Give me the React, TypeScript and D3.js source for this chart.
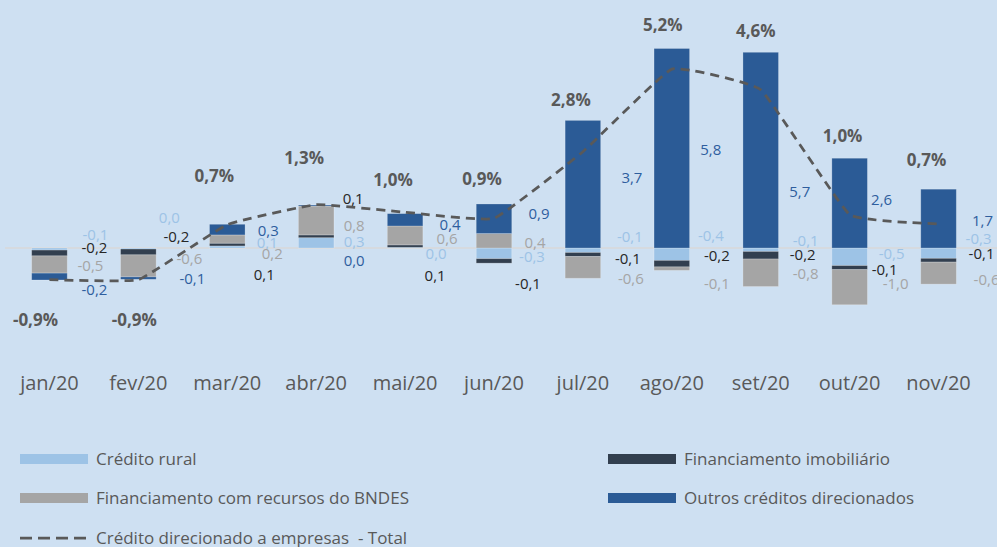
import React from 'react';
import * as d3 from 'd3';

// monthly contributions (p.p.) to directed credit to companies
const months = ['jan/20', 'fev/20', 'mar/20', 'abr/20', 'mai/20', 'jun/20', 'jul/20', 'ago/20', 'set/20', 'out/20', 'nov/20'];
const creditoRural = [-0.06, -0.03, 0.06, 0.30, 0.02, -0.31, -0.13, -0.36, -0.10, -0.51, -0.30];
const financImobiliario = [-0.17, -0.17, 0.08, 0.08, 0.07, -0.13, -0.12, -0.19, -0.22, -0.12, -0.11];
const financBndes = [-0.50, -0.64, 0.24, 0.84, 0.55, 0.42, -0.63, -0.10, -0.80, -1.02, -0.64];
const outrosCreditos = [-0.20, -0.07, 0.31, 0.03, 0.36, 0.86, 3.71, 5.80, 5.69, 2.61, 1.71];
const totalEmpresas = [-0.92, -0.92, 0.68, 1.26, 1.04, 0.86, 2.80, 5.20, 4.60, 0.97, 0.70];

const seriesNames = ['Crédito rural', 'Financiamento imobiliário', 'Financiamento com recursos do BNDES', 'Outros créditos direcionados'];
const lineName = 'Crédito direcionado a empresas  - Total';

// layout: label nudges (px) as they were placed by hand in the original
const labelDx = [
  [46, 31, 40, 38, 31, 38, 47, 39, 45, 42, 40],
  [45, 38, 37, 37, 30, 34, 45, 45, 42, 35, 43],
  [41, 51, 45, 38, 42, 41, 48, 45, 45, 46, 48],
  [45, 54, 41, 38, 45, 45, 49, 39, 39, 32, 44],
];
const labelDy = [
  [-13, -30, -5, -6, 6, 9, -11, -12, -7, 6, -9],
  [0, -11, 27, -49, 28, 36, 11, 8, 7, 22, 6],
  [18, 11, 6, -22, -9, -5, 31, 36, 26, 36, 32],
  [42, 31, -17, 13, -23, -34, -70, -98, -56, -48, -27],
];
const totalDx = [-14, -4, -13, -12, -12, -12, -12, -9, -5, -7, -12];
const totalDy = [40, 40, -49, -47, -32, -40, -52, -44, -59, -79, -64];

const W = 997;
const H = 547;
const FONT = "'Open Sans', 'Noto Sans', sans-serif";
const colors = ['#9dc3e6', '#323f4f', '#a5a5a5', '#2b5b96'];
const labelColors = ['#9dc3e6', '#262626', '#a5a5a5', '#2e5e9e'];
const textGray = '#595959';

const fmt = (v: number) => {
  const r = Math.round(v * 10) / 10;
  const s = (Math.abs(r) < 1e-9 ? 0 : r).toFixed(1);
  return s.replace('.', ',');
};

const App = () => {
  const keys = ['rural', 'imob', 'bndes', 'outros'];
  const rows = months.map((m, i) => ({
    month: m,
    rural: creditoRural[i],
    imob: financImobiliario[i],
    bndes: financBndes[i],
    outros: outrosCreditos[i],
  }));

  const stacked = d3.stack<any>().keys(keys).offset(d3.stackOffsetDiverging)(rows);

  const x = d3.scaleBand().domain(months).range([5, 983]).paddingInner(0.6).paddingOuter(0.3);
  const y = d3.scaleLinear().domain([-2, 6]).range([316.8, 41.6]);
  const cx = (m: string) => (x(m) as number) + x.bandwidth() / 2;

  // lightly smoothed line, close to straight segments
  const line = d3.line<number>()
    .x((_, i) => cx(months[i]))
    .y(d => y(d))
    .curve(d3.curveCardinal.tension(0.7));

  const legendItems = [
    { name: seriesNames[0], color: colors[0], lx: 20, ly: 459 },
    { name: seriesNames[1], color: colors[1], lx: 608, ly: 459 },
    { name: seriesNames[2], color: colors[2], lx: 20, ly: 498 },
    { name: seriesNames[3], color: colors[3], lx: 608, ly: 498 },
  ];

  return (
    <svg width={W} height={H} style={{ position: 'absolute', left: 0, top: 0, display: 'block' }} fontFamily={FONT}>
      <rect width={W} height={H} fill="#cee0f2" />

      {/* zero line */}
      <line x1={5} x2={W} y1={y(0)} y2={y(0)} stroke="#d9d9d9" strokeWidth={1.5} />

      {/* stacked bars */}
      {stacked.map((s, k) => (
        <g key={keys[k]} fill={colors[k]}>
          {s.map((d, i) => (
            <rect
              key={i}
              x={x(months[i])}
              width={x.bandwidth()}
              y={y(Math.max(d[0], d[1]))}
              height={Math.abs(y(d[0]) - y(d[1]))}
              stroke="rgba(255,255,255,0.28)"
              strokeWidth={0.8}
            />
          ))}
        </g>
      ))}

      {/* total line */}
      <path d={line(totalEmpresas) || ''} fill="none" stroke={textGray} strokeWidth={2.75} strokeDasharray="9,6" />

      {/* segment labels */}
      {[creditoRural, financImobiliario, financBndes, outrosCreditos].map((vals, k) => (
        <g key={k} fill={labelColors[k]} fontSize={15} textAnchor="middle">
          {vals.map((v, i) => (
            <text key={i} x={cx(months[i]) + labelDx[k][i]} y={y(0) + labelDy[k][i]} dy="0.36em">
              {fmt(v)}
            </text>
          ))}
        </g>
      ))}

      {/* total labels */}
      <g fill={textGray} fontSize={17} fontWeight="bold" textAnchor="middle">
        {totalEmpresas.map((v, i) => (
          <text key={i} x={cx(months[i]) + totalDx[i]} y={y(v) + totalDy[i]} dy="0.36em">
            {fmt(v)}%
          </text>
        ))}
      </g>

      {/* category axis */}
      <g fill={textGray} fontSize={20} textAnchor="middle">
        {months.map(m => (
          <text key={m} x={cx(m)} y={383} dy="0.36em">{m}</text>
        ))}
      </g>

      {/* legend */}
      <g fontSize={17} fill={textGray}>
        {legendItems.map(it => (
          <g key={it.name}>
            <rect x={it.lx} y={it.ly - 5} width={68} height={10} fill={it.color} />
            <text x={it.lx + 76} y={it.ly} dy="0.36em">{it.name}</text>
          </g>
        ))}
        <line x1={20} x2={88} y1={538} y2={538} stroke={textGray} strokeWidth={2.75} strokeDasharray="12,6" />
        <text x={96} y={538} dy="0.36em" style={{ whiteSpace: 'pre' }}>{lineName}</text>
      </g>
    </svg>
  );
};

export default App;
